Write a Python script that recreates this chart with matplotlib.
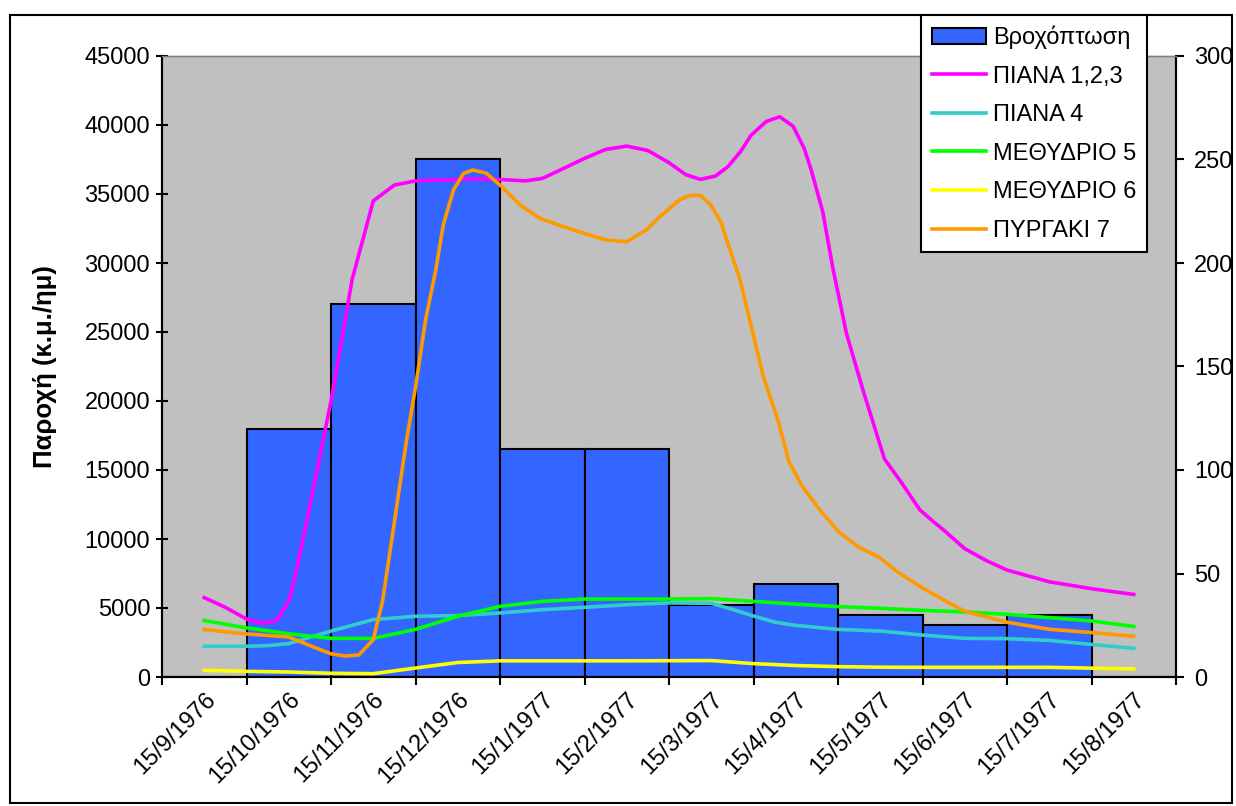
import numpy as np
import matplotlib
matplotlib.use("Agg")
import matplotlib.pyplot as plt
from matplotlib.patches import Rectangle
from matplotlib.lines import Line2D
from matplotlib.patches import Patch

plt.rcParams['font.family'] = ['Liberation Sans', 'DejaVu Sans']

# ---- data ----
dates = ["15/9/1976", "15/10/1976", "15/11/1976", "15/12/1976", "15/1/1977",
         "15/2/1977", "15/3/1977", "15/4/1977", "15/5/1977", "15/6/1977",
         "15/7/1977", "15/8/1977"]
rain = [0, 120, 180, 250, 110, 110, 35, 45, 30, 25, 30, 0]   # Βροχόπτωση (right axis)

piana123_x = [0, 0.25, 0.5, 0.7, 0.86, 1.0, 1.08, 1.25, 1.5, 1.75, 2.0, 2.25, 2.5,
              3.0, 3.2, 3.5, 3.8, 4.0, 4.2, 4.5, 4.75, 5.0, 5.25, 5.5, 5.7, 5.87,
              6.05, 6.2, 6.35, 6.47, 6.65, 6.81, 6.97, 7.1, 7.18, 7.32, 7.44, 7.6,
              7.8, 8.05, 8.25, 8.47, 8.63, 8.75, 9.0, 9.25, 9.5, 10.0, 10.5, 11.0]
piana123 = [5750, 5050, 4200, 3880, 4100, 5500, 7400, 12400, 20000, 28800, 34500,
            35650, 35950, 36050, 36100, 36050, 35950, 36130, 36700, 37580, 38230,
            38470, 38150, 37270, 36400, 36060, 36300, 37000, 38100, 39250, 40250,
            40600, 39900, 38300, 36800, 33700, 29600, 24900, 20700, 15800, 14100,
            12100, 11250, 10650, 9300, 8450, 7750, 6900, 6400, 5980]

pyrgaki7_x = [0, 0.5, 1.0, 1.24, 1.5, 1.67, 1.83, 2.0, 2.11, 2.23, 2.39, 2.5, 2.62,
              2.74, 2.83, 2.95, 3.07, 3.18, 3.34, 3.5, 3.74, 3.97, 4.25, 4.52, 4.76,
              5.0, 5.23, 5.39, 5.63, 5.75, 5.87, 5.99, 6.12, 6.16, 6.34, 6.45, 6.61,
              6.79, 6.92, 7.08, 7.28, 7.51, 7.75, 7.98, 8.22, 8.5, 8.75, 9.0, 9.5,
              10.0, 10.5, 11.0]
pyrgaki7 = [3440, 3120, 2900, 2300, 1680, 1520, 1600, 2700, 5500, 10400, 17000,
            21000, 25900, 29500, 32800, 35300, 36500, 36740, 36500, 35650, 34200,
            33240, 32630, 32100, 31665, 31545, 32390, 33350, 34600, 34900, 34900,
            34250, 32900, 32100, 28800, 26000, 21900, 18600, 15600, 13800, 12150,
            10500, 9400, 8700, 7550, 6450, 5580, 4760, 3970, 3460, 3220, 2950]

half_x = [0, 0.5, 1, 1.5, 2, 2.5, 3, 3.5, 4, 4.5, 5, 5.5, 6, 6.5, 7, 7.5, 8, 8.5,
          9, 9.5, 10, 10.5, 11]
methydrio5 = [4090, 3560, 3130, 2800, 2800, 3450, 4400, 5120, 5480, 5650, 5650,
              5650, 5680, 5480, 5280, 5100, 4980, 4830, 4710, 4540, 4300, 4060, 3660]
methydrio6 = [480, 410, 360, 270, 240, 650, 1050, 1170, 1170, 1170, 1170, 1180,
              1190, 970, 830, 750, 710, 700, 700, 700, 700, 640, 590]

piana4_x = [0, 0.5, 0.75, 1, 1.5, 2, 2.5, 3, 3.5, 4, 4.5, 5, 5.5, 6, 6.25, 6.5,
            6.75, 7, 7.5, 8, 8.5, 9, 9.5, 10, 10.5, 11]
piana4 = [2230, 2230, 2270, 2420, 3330, 4160, 4400, 4450, 4640, 4880, 5050, 5240,
          5370, 5340, 4900, 4420, 3980, 3740, 3450, 3330, 3040, 2800, 2780, 2650,
          2360, 2080]

W, H = 1236, 806
fig = plt.figure(figsize=(W / 100, H / 100), dpi=100)
fig.patch.set_facecolor("white")

# outer chart border
fig.patches.append(Rectangle((10 / W, 3 / H), 1222 / W, (H - 18) / H,
                             transform=fig.transFigure, fill=False,
                             edgecolor="black", lw=1.5))

left, right, top, bottom = 162, 1176, 56, 677
ax2 = fig.add_axes([left / W, 1 - bottom / H, (right - left) / W, (bottom - top) / H])
ax = ax2.twinx()

# bars on the right axis, drawn underneath
ax2.set_facecolor("#C0C0C0")
ax2.bar(range(len(rain)), rain, width=1.0, color="#3366FF",
        edgecolor="black", linewidth=1.5)
ax2.set_ylim(0, 300)
ax2.set_yticks(range(0, 301, 50))
ax2.yaxis.tick_right()

# flow lines on the left axis, drawn on top
ax.set_zorder(ax2.get_zorder() + 1)
ax.patch.set_visible(False)
lw = 2.6
ax.plot(piana123_x, piana123, color="#FF00FF", lw=lw)
ax.plot(piana4_x, piana4, color="#33CCCC", lw=lw)
ax.plot(half_x, methydrio5, color="#00FF00", lw=lw)
ax.plot(half_x, methydrio6, color="#FFFF00", lw=lw)
ax.plot(pyrgaki7_x, pyrgaki7, color="#FF9900", lw=lw)
ax.set_ylim(0, 45000)
ax.set_yticks(range(0, 45001, 5000))
ax.yaxis.tick_left()

for a in (ax, ax2):
    a.set_xlim(-0.5, len(dates) - 0.5)
    for s in ("left", "right", "bottom"):
        a.spines[s].set_color("black")
        a.spines[s].set_linewidth(1.5)
    a.spines["top"].set_color("#808080")
    a.spines["top"].set_linewidth(1.0)

fs = 17
ax.tick_params(axis="y", direction="inout", length=9, width=1.5, labelsize=fs, pad=4)
ax2.tick_params(axis="y", direction="out", length=6, width=1.5, labelsize=fs, pad=7)

ax2.set_xticks(np.arange(-0.5, len(dates), 1.0))
ax2.set_xticklabels([])
ax2.tick_params(axis="x", which="major", direction="out", length=6, width=1.5)
ax2.set_xticks(range(len(dates)), minor=True)
ax2.set_xticklabels(dates, minor=True, rotation=45, ha="right", va="top",
                    rotation_mode="anchor", fontsize=fs)
ax2.tick_params(axis="x", which="minor", length=0, pad=8)
ax.tick_params(axis="x", which="both", bottom=False, labelbottom=False)

fig.text(45 / W, 1 - 367 / H, "Παροχή (κ.μ./ημ)", rotation=90, ha="center",
         va="center", fontsize=18.5, fontweight="bold")

handles = [Patch(facecolor="#3366FF", edgecolor="black", linewidth=1.5),
           Line2D([], [], color="#FF00FF", lw=lw),
           Line2D([], [], color="#33CCCC", lw=lw),
           Line2D([], [], color="#00FF00", lw=lw),
           Line2D([], [], color="#FFFF00", lw=lw),
           Line2D([], [], color="#FF9900", lw=lw)]
labels = ["Βροχόπτωση", "ΠΙΑΝΑ 1,2,3", "ΠΙΑΝΑ 4", "ΜΕΘΥΔΡΙΟ 5", "ΜΕΘΥΔΡΙΟ 6", "ΠΥΡΓΑΚΙ 7"]
leg = fig.legend(handles, labels, loc="upper left",
                 bbox_to_anchor=(921 / W, 1 - 15 / H), borderaxespad=0,
                 fontsize=fs, fancybox=False, framealpha=1, edgecolor="black",
                 handlelength=2.3, handletextpad=0.3, labelspacing=0.7,
                 borderpad=0.45)
leg.get_frame().set_linewidth(1.5)

fig.savefig("out.png", dpi=100, facecolor="white")
